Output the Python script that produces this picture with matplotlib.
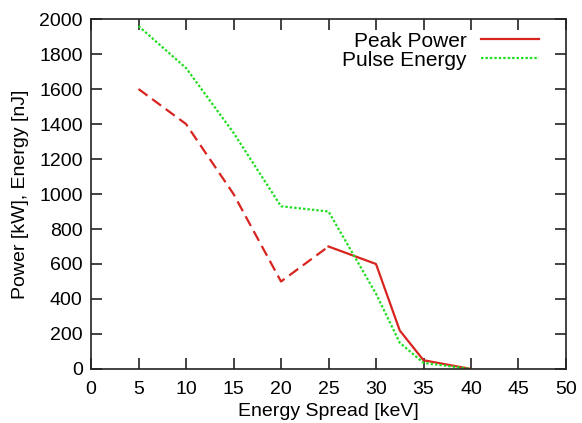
import matplotlib
matplotlib.use("Agg")
import matplotlib.pyplot as plt
from matplotlib.lines import Line2D

plt.rcParams['font.family'] = ['Liberation Sans', 'DejaVu Sans']

# Energy spread in keV
spread = [5, 10, 15, 20, 25, 30, 32.5, 35, 40]
# Peak power in kW
peak_power = [1600, 1400, 1000, 500, 700, 600, 220, 50, 0]
# Pulse energy in nJ
pulse_energy = [1960, 1720, 1350, 930, 900, 430, 150, 35, 0]

x_ticks = [0, 5, 10, 15, 20, 25, 30, 35, 40, 45, 50]
y_ticks = [0, 200, 400, 600, 800, 1000, 1200, 1400, 1600, 1800, 2000]

red = '#d8241f'
green = '#22dd22'

fig = plt.figure(figsize=(5.82, 4.23), dpi=100)
ax = fig.add_axes([0.1564, 0.1277, 0.8161, 0.8273])

# Peak power: dashed up to 25 keV, solid afterwards
split = spread.index(25)
ax.plot(spread[:split + 1], peak_power[:split + 1], color=red, lw=1.6,
        linestyle=(0, (5, 2.6)))
ax.plot(spread[split:], peak_power[split:], color=red, lw=1.6)
ax.plot(spread, pulse_energy, color=green, lw=1.6, linestyle=(0, (1.1, 0.9)))

ax.set_xlim(0, 50)
ax.set_ylim(0, 2000)
ax.set_xticks(x_ticks)
ax.set_yticks(y_ticks)
ax.tick_params(direction='in', length=8, width=1.2, top=True, right=True,
               labelsize=14, color='#222222')
ax.tick_params(axis='x', pad=9)
ax.tick_params(axis='y', pad=6)
for s in ax.spines.values():
    s.set_linewidth(1.2)
    s.set_color('#222222')

ax.set_xlabel('Energy Spread [keV]', fontsize=14, labelpad=3)
ax.set_ylabel('Power [kW], Energy [nJ]', fontsize=14, labelpad=7)

handles = [Line2D([], [], color=red, lw=1.6),
           Line2D([], [], color=green, lw=1.6, linestyle=(0, (1.1, 0.9)))]
ax.legend(handles, ['Peak Power', 'Pulse Energy'], loc='upper right',
          frameon=False, markerfirst=False, fontsize=15, handlelength=2.8,
          handletextpad=0.7, labelspacing=0.0, borderaxespad=0.2,
          bbox_to_anchor=(0.97, 1.0))

fig.savefig('out.png', dpi=100)
